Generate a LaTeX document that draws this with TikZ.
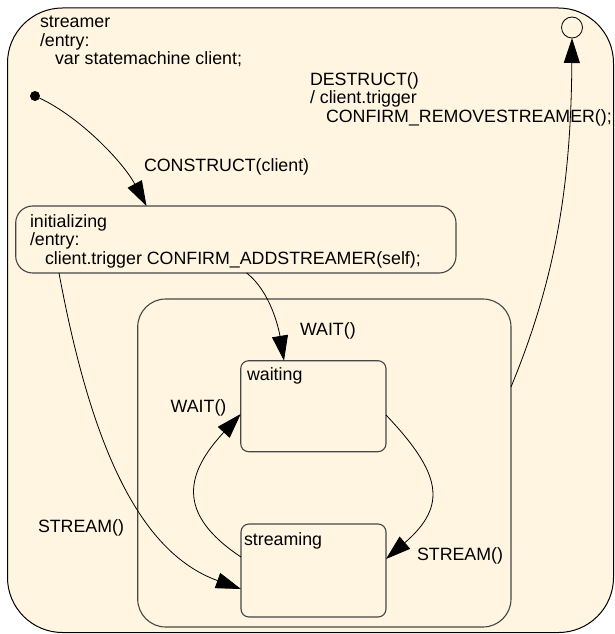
\documentclass[tikz,border=0pt]{standalone}
\usepackage{fontspec}
\setmainfont{Liberation Sans}
\usetikzlibrary{arrows.meta}
\definecolor{bg}{RGB}{255,245,225}
\definecolor{boxline}{RGB}{70,70,70}
\begin{document}
\begin{tikzpicture}[x=1pt,y=-1pt,
  every node/.style={inner sep=0pt, outer sep=0pt},
  txt/.style={anchor=base west, font=\fontsize{17.8}{18.5}\selectfont},
  statebox/.style={draw=boxline, line width=1.1pt, fill=bg, rectangle},
  conn/.style={draw=black, line width=0.8pt, -{Triangle[length=25pt,width=16pt]}}]
\fill[white] (0,0) rectangle (614,634);
\useasboundingbox (0,0) rectangle (614,634);
% outer state
\node[draw=black, line width=1pt, fill=bg, rounded corners=55pt,
      minimum width=606pt, minimum height=624.5pt] (streamer) at (310.5,320.25) {};
% states
\node[statebox, rounded corners=17pt, minimum width=440.3pt, minimum height=67pt] (initbox) at (235.85,239.5) {};
\node[statebox, rounded corners=28pt, minimum width=373.3pt, minimum height=328pt] (comp) at (324.35,463) {};
\node[statebox, rounded corners=8pt, minimum width=145.3pt, minimum height=91pt] (waiting) at (313.35,406.2) {};
\node[statebox, rounded corners=8pt, minimum width=145pt, minimum height=93pt] (streaming) at (313.5,570.5) {};
\node[circle, fill=black, minimum size=10pt] (start) at (35,96) {};
\node[circle, draw=black, line width=0.8pt, fill=bg, minimum size=21pt] (final) at (572,27.5) {};
% connectors
\draw[conn] (start) .. controls (80,117) and (123,162) .. ([xshift=-89.35pt]initbox.north);
\draw[conn] ([xshift=10.85pt]initbox.south) .. controls (271,292) and (279,330) .. ([xshift=-29.35pt]waiting.north);
\draw[conn] ([xshift=-176.85pt]initbox.south) .. controls (90,440) and (137,551.6) .. ([yshift=-18.5pt]streaming.west);
\draw[conn] ([yshift=-8.8pt]waiting.east) .. controls (441.4,473.4) and (448,505.4) .. ([yshift=11.5pt]streaming.east);
\draw[conn] ([yshift=13.5pt]streaming.west) .. controls (174.6,513) and (186.6,472.4) .. ([yshift=-7.8pt]waiting.west);
\draw[conn] ([yshift=76pt]comp.east) .. controls (554.7,281) and (571,188) .. (final.south);
% texts
\node[txt] (t1) at (40,28) {streamer};
\node[txt] (t2) at (40,46.5) {/entry:};
\node[txt] (t3) at (55,65) {var statemachine client;};
\node[txt] (d1) at (310,85) {DESTRUCT()};
\node[txt] (d2) at (310,103.5) {/ client.trigger};
\node[txt] (d3) at (326,122) {CONFIRM\_REMOVESTREAMER();};
\node[txt] (c1) at (144,171) {CONSTRUCT(client)};
\node[txt] (i1) at (30,227) {initializing};
\node[txt] (i2) at (30,245.5) {/entry:};
\node[txt] (i3) at (45,264) {client.trigger CONFIRM\_ADDSTREAMER(self);};
\node[txt] (w0) at (300,335.7) {WAIT()};
\node[txt] (w1) at (170.7,412) {WAIT()};
\node[txt] (wt) at (247,380) {waiting};
\node[txt] (st) at (244,545) {streaming};
\node[txt] (s1) at (417,560) {STREAM()};
\node[txt] (s0) at (38,532) {STREAM()};
\end{tikzpicture}
\end{document}
